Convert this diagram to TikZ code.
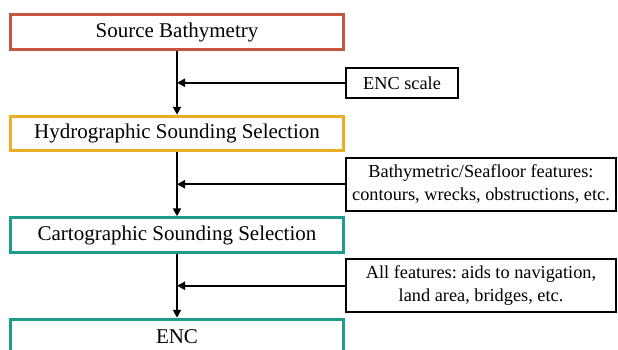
\documentclass[tikz,border=0pt]{standalone}
\usepackage{fontspec}
\setmainfont{Liberation Serif}
\usepackage{xcolor}
\usepackage{tikz}
\usetikzlibrary{arrows.meta,positioning,calc}
\frenchspacing

\definecolor{srcred}{HTML}{C3573F}
\definecolor{hydgold}{HTML}{E9AE26}
\definecolor{carteal}{HTML}{1F9B8B}

\begin{document}
\begin{tikzpicture}[
  x=1pt,y=1pt,
  node distance=64pt,
  stage/.style={rectangle,line width=3pt,align=center,minimum width=333pt,minimum height=34.5pt,inner sep=2pt,font=\fontsize{21}{25}\selectfont},
  input/.style={rectangle,draw=black,line width=2pt,align=center,minimum height=30pt,inner xsep=4pt,font=\fontsize{18.3}{23}\selectfont},
  arr/.style={-{Triangle[length=8pt,width=8pt]},line width=2pt}
]
\useasboundingbox (0,0) rectangle (618,-349);
\clip (0,0) rectangle (618,-349);
\node[stage,draw=srcred] (src) at (177,-32) {Source Bathymetry};
\node[stage,draw=hydgold,below=of src] (hydro) {Hydrographic Sounding Selection};
\node[stage,draw=carteal,below=of hydro] (carto) {Cartographic Sounding Selection};
\node[stage,draw=carteal,below=of carto] (enc) {ENC};
% side inputs sit halfway between two stages
\node[input,anchor=west,minimum width=112pt] (scale) at ($(src.east)!0.5!(hydro.east)$) {ENC scale};
\node[input,anchor=west,minimum width=270pt,minimum height=53pt] (bathy) at ($(hydro.east)!0.5!(carto.east)$) {Bathymetric/Seafloor features:\\contours, wrecks, obstructions, etc.};
\node[input,anchor=west,minimum width=270pt,minimum height=53pt] (feat) at ($(carto.east)!0.5!(enc.east)$) {All features: aids to navigation,\\land area, bridges, etc.};
\draw[arr] (src) -- (hydro);
\draw[arr] (hydro) -- (carto);
\draw[arr] (carto) -- (enc);
\draw[arr] (scale) -- (scale -| src);
\draw[arr] (bathy) -- (bathy -| hydro);
\draw[arr] (feat) -- (feat -| carto);
\end{tikzpicture}
\end{document}
